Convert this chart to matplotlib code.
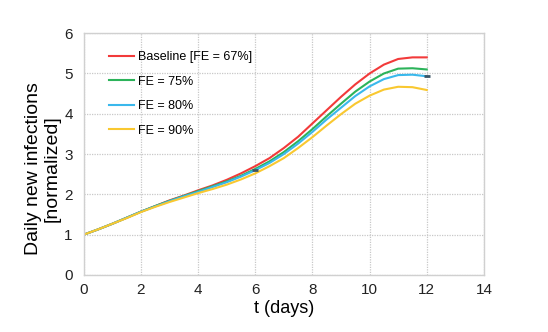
import numpy as np
import matplotlib.pyplot as plt

plt.rcParams['font.family'] = ['Liberation Sans', 'DejaVu Sans']

# values, every half day
t = [0, 0.5, 1, 1.5, 2, 2.5, 3, 3.5, 4, 4.5, 5, 5.5, 6, 6.5, 7, 7.5, 8, 8.5, 9, 9.5, 10, 10.5, 11, 11.5, 12]
baseline = [1.0, 1.13, 1.27, 1.42, 1.57, 1.71, 1.85, 1.97, 2.10, 2.22, 2.36, 2.52, 2.70, 2.90, 3.15, 3.43, 3.76, 4.09, 4.42, 4.73, 5.00, 5.22, 5.36, 5.40, 5.40]
fe75 = [1.0, 1.13, 1.27, 1.42, 1.57, 1.71, 1.84, 1.96, 2.08, 2.20, 2.32, 2.46, 2.63, 2.82, 3.05, 3.32, 3.62, 3.94, 4.25, 4.55, 4.80, 5.00, 5.12, 5.13, 5.10]
fe80 = [1.0, 1.13, 1.27, 1.42, 1.57, 1.70, 1.83, 1.95, 2.06, 2.18, 2.30, 2.44, 2.60, 2.78, 3.00, 3.26, 3.55, 3.86, 4.15, 4.44, 4.68, 4.86, 4.96, 4.97, 4.93]
fe90 = [1.0, 1.13, 1.27, 1.41, 1.56, 1.69, 1.81, 1.92, 2.03, 2.13, 2.24, 2.37, 2.52, 2.70, 2.90, 3.15, 3.42, 3.71, 3.99, 4.25, 4.45, 4.60, 4.67, 4.66, 4.59]

labels = ["Baseline [FE = 67%]", "FE = 75%", "FE = 80%", "FE = 90%"]
colors = ["#f23a3a", "#2cb35a", "#3ab8ec", "#f9c830"]

fig, ax = plt.subplots(figsize=(5.48, 3.32), dpi=100)
fig.subplots_adjust(left=0.153, right=0.883, top=0.90, bottom=0.172)

for y, lab, c in zip([baseline, fe75, fe80, fe90], labels, colors):
    ax.plot(t, y, color=c, lw=1.5, label=lab)

# little dark ticks sitting on the FE = 80% curve
ax.plot([t[12], t[24]], [fe80[12], fe80[24]], ls="none", marker="_",
        color="#3a5566", ms=5, mew=2)

ax.set_xlim(0, 14)
ax.set_ylim(0, 6)
ax.set_xticks(range(0, 15, 2))
ax.set_yticks(range(0, 7))
ax.grid(True, color="#c8c8c8", linestyle=(0, (1, 1)), lw=0.9)
for s in ax.spines.values():
    s.set_color("#d0d0d0")
    s.set_linewidth(1.0)
ax.tick_params(length=0, labelsize=11, colors="#222222")
ax.tick_params(axis="y", pad=8)
ax.tick_params(axis="x", pad=6)

ax.set_xlabel("t (days)", fontsize=13, labelpad=2)
ax.set_ylabel("Daily new infections\n[normalized]", fontsize=14, linespacing=1.1)
ax.yaxis.set_label_coords(-0.058, 0.44)

ax.legend(loc="upper left", frameon=False, fontsize=9, handlelength=2.0,
          handletextpad=0.3, labelspacing=1.0, bbox_to_anchor=(0.035, 0.972))

fig.savefig("out.png")
